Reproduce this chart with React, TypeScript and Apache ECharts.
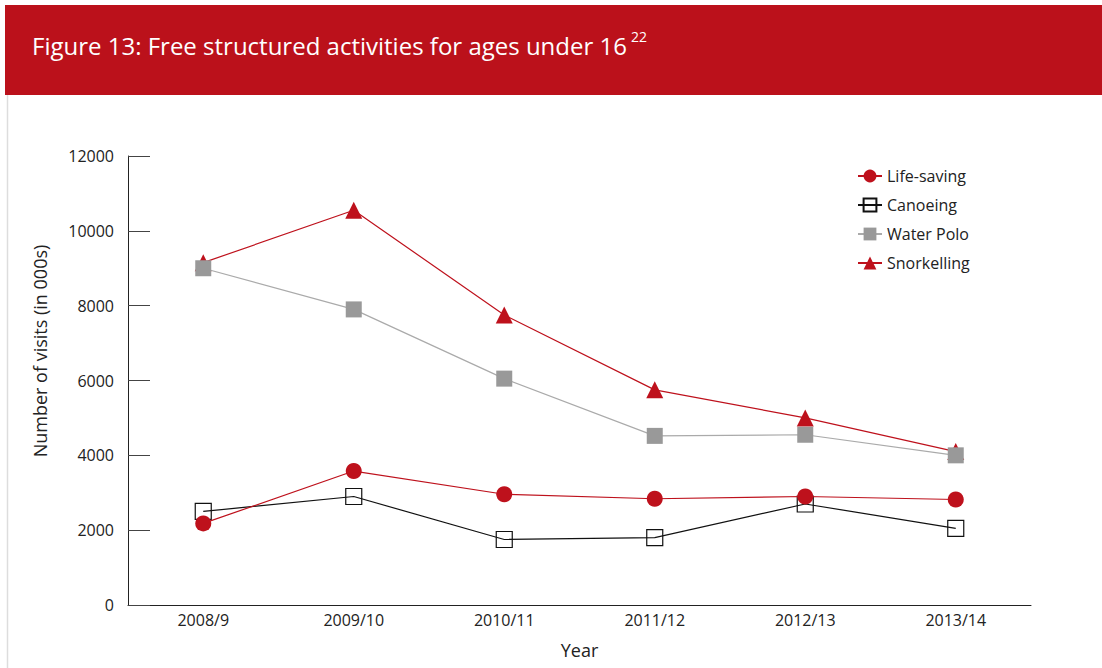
import React, { useEffect, useRef } from "react";
import * as echarts from "echarts";

const years = ["2008/9", "2009/10", "2010/11", "2011/12", "2012/13", "2013/14"];
const lifeSaving = [2180, 3580, 2960, 2840, 2900, 2820];
const canoeing = [2500, 2900, 1750, 1800, 2700, 2050];
const waterPolo = [9000, 7900, 6050, 4520, 4550, 4000];
const snorkelling = [9150, 10550, 7750, 5750, 5000, 4100];
const seriesNames = ["Life-saving", "Canoeing", "Water Polo", "Snorkelling"];

const RED = "#BE111C";
const FONT = "'Open Sans', 'Noto Sans', sans-serif";

export default function App() {
  const ref = useRef<HTMLDivElement>(null);
  useEffect(() => {
    document.body.style.margin = "0";
    if (!ref.current) return;
    const chart = echarts.init(ref.current, null, { renderer: "svg" });
    chart.setOption({
      animation: false,
      backgroundColor: "#fff",
      textStyle: { fontFamily: FONT },
      graphic: [
        { type: "rect", left: 5, top: 5, shape: { width: 1097, height: 90 }, style: { fill: "#BB111B" }, z: 0 },
        { type: "line", shape: { x1: 7.5, y1: 95, x2: 7.5, y2: 668 }, style: { stroke: "#dddddd", lineWidth: 1.5 } },
        {
          type: "text",
          left: 32,
          top: 29,
          style: {
            text: "{t|Figure 13: Free structured activities for ages under 16}{s|22}",
            rich: {
              t: { fontSize: 24, fill: "#fff", fontFamily: FONT, lineHeight: 32 },
              s: { fontSize: 14, fill: "#fff", fontFamily: FONT, verticalAlign: "top", lineHeight: 32, padding: [0, 0, 14, 4] },
            },
          },
        },
        {
          type: "text",
          x: 40,
          y: 351,
          rotation: Math.PI / 2,
          style: {
            text: "Number of visits (in 000s)",
            fontSize: 18,
            fill: "#222",
            fontFamily: FONT,
            align: "center",
            verticalAlign: "middle",
          },
        },
      ],
      legend: {
        data: seriesNames,
        orient: "vertical",
        left: 852,
        top: 163,
        itemWidth: 24,
        itemHeight: 16,
        itemGap: 13,
        textStyle: { fontSize: 16, color: "#222", fontFamily: FONT },
      },
      grid: { left: 128, right: 71, top: 156, bottom: 63, containLabel: false },
      xAxis: {
        type: "category",
        data: years,
        boundaryGap: true,
        name: "Year",
        nameLocation: "middle",
        nameGap: 36,
        nameTextStyle: { fontSize: 18, color: "#222" },
        axisLine: { lineStyle: { color: "#222", width: 1 } },
        axisTick: { inside: true, length: 10, lineStyle: { color: "#222" } },
        axisLabel: { fontSize: 16, color: "#222", margin: 7 },
      },
      yAxis: {
        type: "value",
        min: 0,
        max: 12000,
        interval: 2000,
        axisLine: { show: true, lineStyle: { color: "#222", width: 1 } },
        axisTick: { show: true, inside: true, length: 22, lineStyle: { color: "#444" } },
        axisLabel: { fontSize: 16, color: "#222", margin: 14, formatter: (v: number) => String(v) },
        splitLine: { show: false },
      },
      series: [
        {
          name: "Snorkelling",
          type: "line",
          data: snorkelling,
          symbol: "triangle",
          symbolSize: 17,
          lineStyle: { color: RED, width: 1.2 },
          itemStyle: { color: RED },
          z: 2,
        },
        {
          name: "Water Polo",
          type: "line",
          data: waterPolo,
          symbol: "rect",
          symbolSize: 16,
          lineStyle: { color: "#aaaaaa", width: 1.2 },
          itemStyle: { color: "#999999" },
          z: 3,
        },
        {
          name: "Canoeing",
          type: "line",
          data: canoeing,
          symbol: "rect",
          symbolSize: 16,
          lineStyle: { color: "#111", width: 1.2 },
          itemStyle: { color: "rgba(255,255,255,0)", borderColor: "#111", borderWidth: 1.2 },
          z: 4,
        },
        {
          name: "Life-saving",
          type: "line",
          data: lifeSaving,
          symbol: "circle",
          symbolSize: 16,
          lineStyle: { color: RED, width: 1.2 },
          itemStyle: { color: RED },
          z: 5,
        },
      ],
    });
    return () => chart.dispose();
  }, []);
  return <div ref={ref} style={{ width: 1102, height: 668 }} />;
}
